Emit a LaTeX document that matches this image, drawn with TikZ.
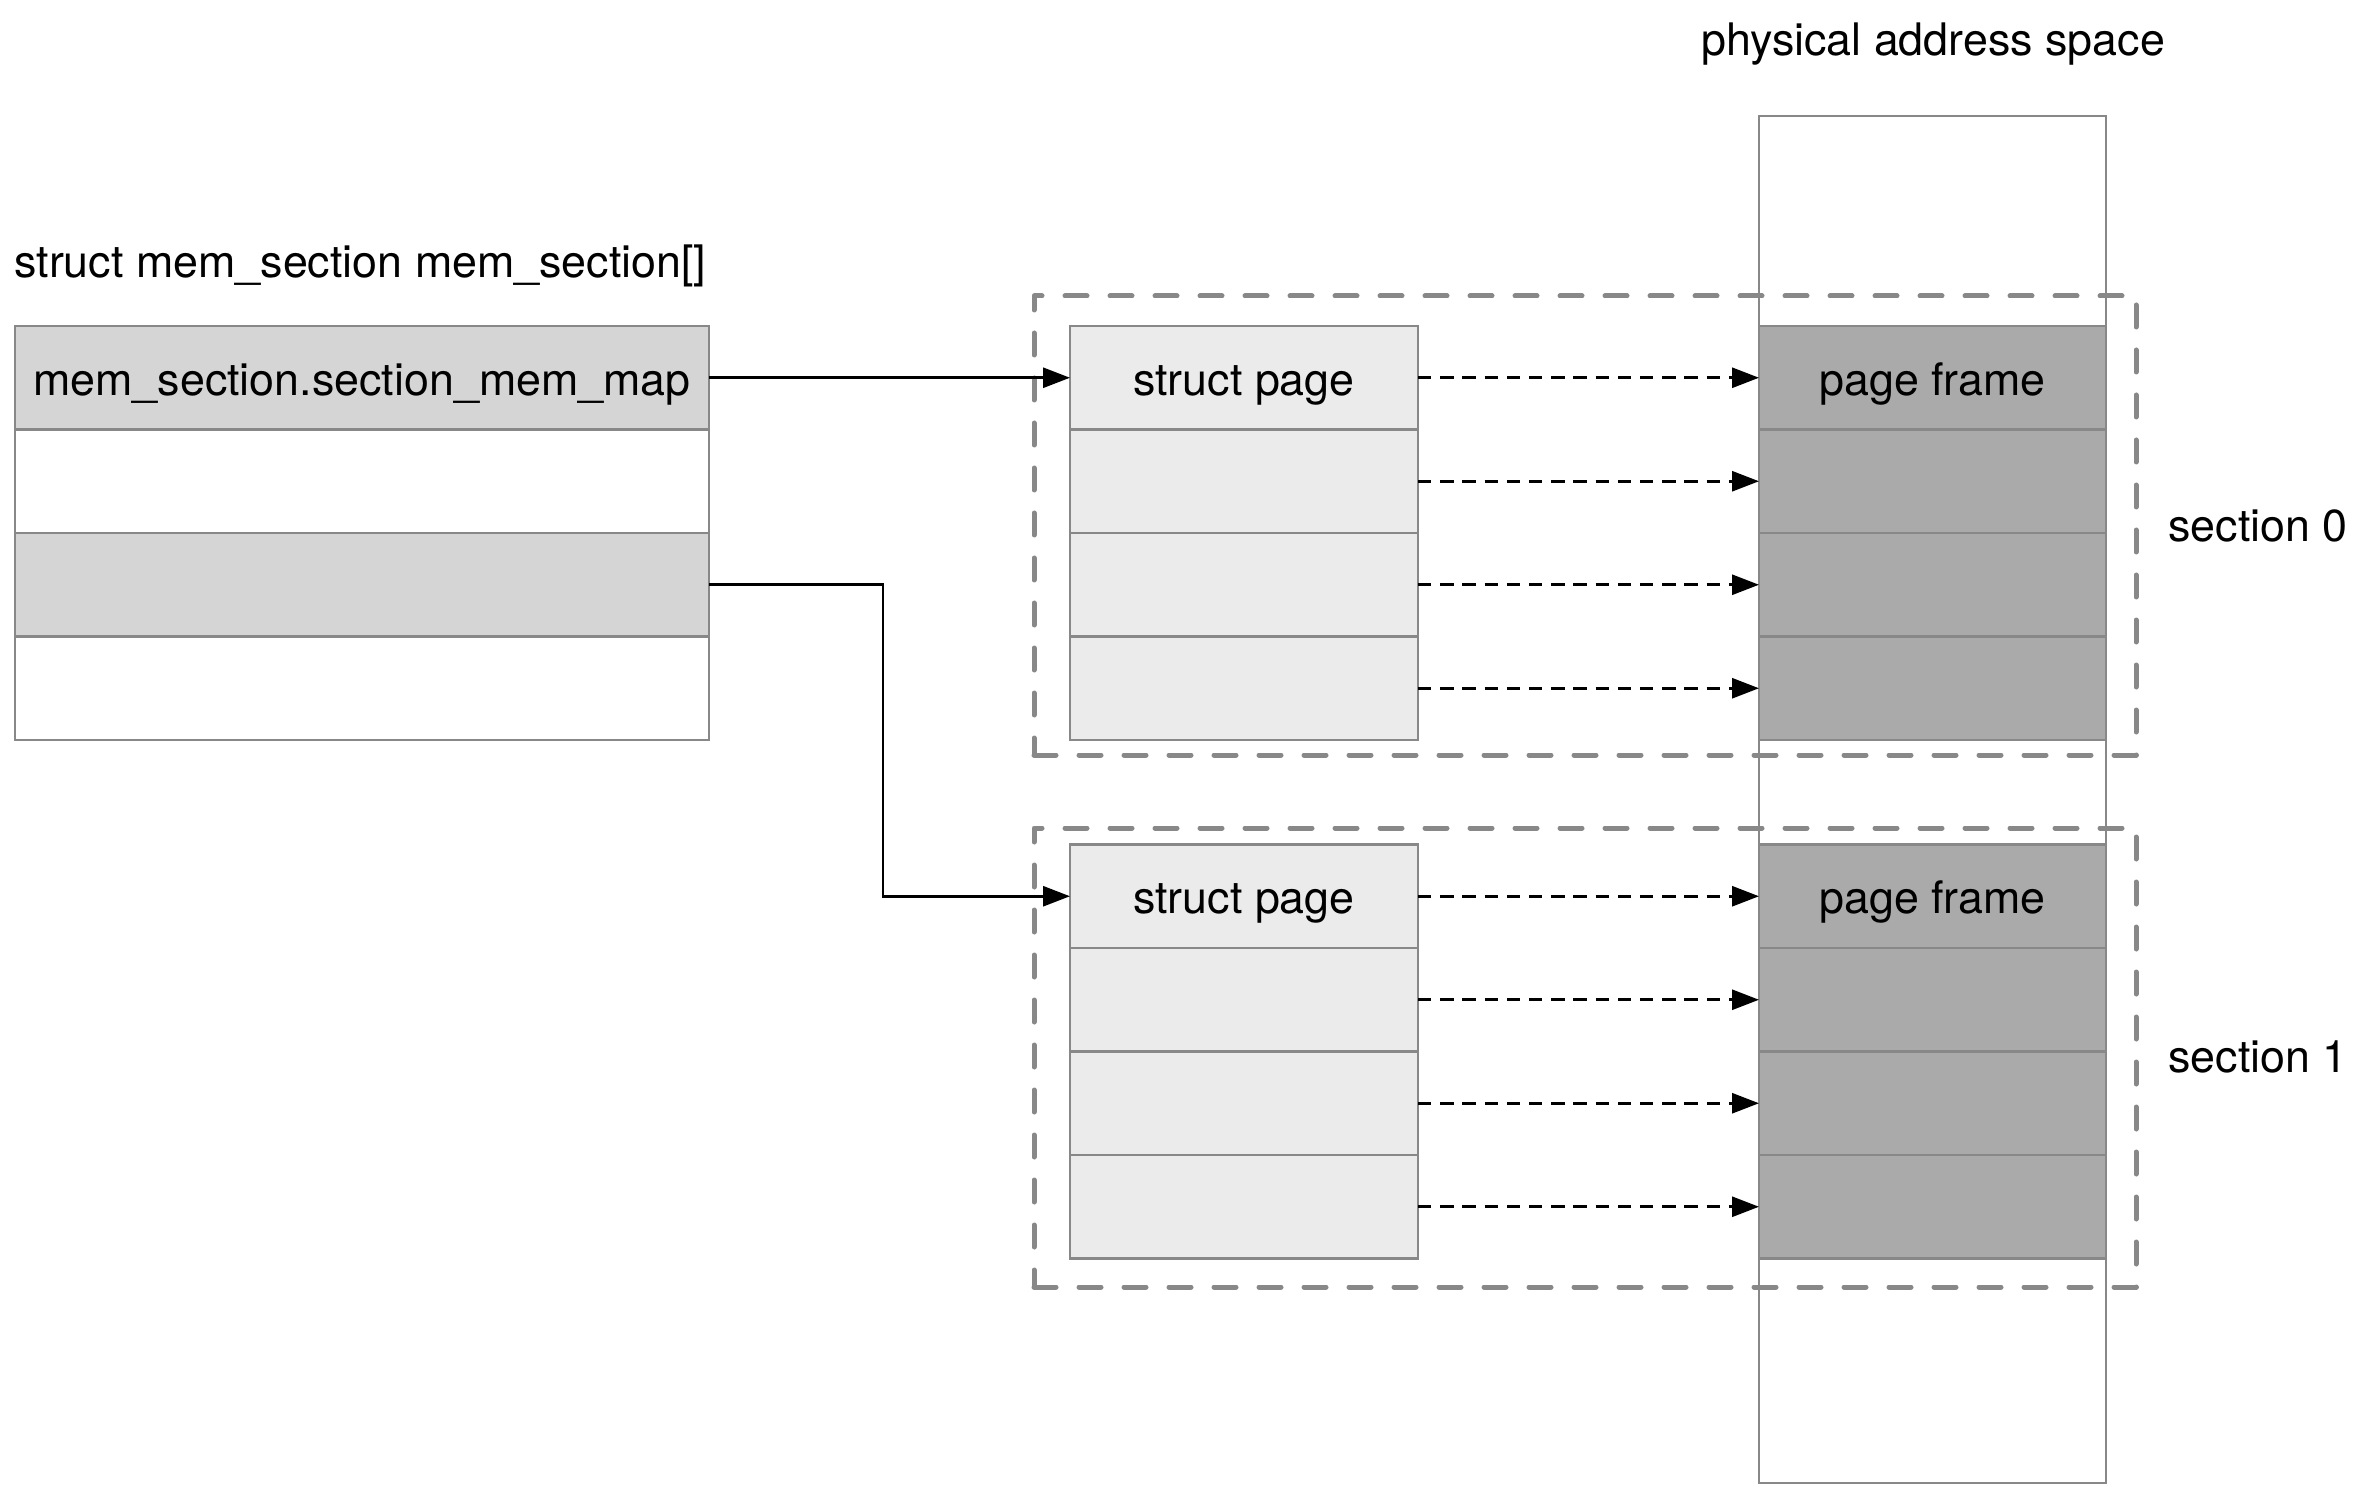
\documentclass[tikz,border=0pt]{standalone}
\usepackage{fontspec}
\setmainfont{TeX Gyre Heros}
\usetikzlibrary{arrows.meta}
\definecolor{boxgray}{HTML}{888888}
\definecolor{rowgray}{HTML}{D5D5D5}
\definecolor{pagegray}{HTML}{EBEBEB}
\definecolor{framegray}{HTML}{AAAAAA}
\begin{document}
\begin{tikzpicture}[x=0.5pt,y=-0.5pt,
  txt/.style={font=\fontsize{22.4}{26}\selectfont},
  cellbox/.style={draw=boxgray, line width=1.35pt, inner sep=0pt, outer sep=0pt, minimum height=51.75pt, txt, text height=21pt, text depth=3.6pt},
  memcell/.style={cellbox, minimum width=347pt},
  pagecell/.style={cellbox, minimum width=174pt, fill=pagegray},
  framecell/.style={cellbox, minimum width=173.5pt, fill=framegray},
  sectbox/.style={draw=boxgray, line width=2.5pt, dash pattern=on 11pt off 11.5pt, line cap=round, line join=round, inner sep=0pt, outer sep=0pt, minimum width=551pt, minimum height=229.5pt},
  arr/.style={draw=black, line width=1.4pt, -{Triangle[length=13.5pt,width=10pt]}},
  darr/.style={arr, dash pattern=on 6.65pt off 4.45pt},
  lbl/.style={txt, inner sep=0pt}
]
\useasboundingbox (0,0) rectangle (2366,1486);

% physical address space column
\node[draw=boxgray, line width=1.35pt, fill=white, minimum width=173.5pt, minimum height=683.5pt, inner sep=0pt, outer sep=0pt] (phys) at (1932.5,799.5) {};

% section boxes
\node[sectbox] (sec0) at (1585,525.5) {};
\node[sectbox] (sec1) at (1585,1057.5) {};

% mem_section table
\node[memcell, fill=rowgray] (m1) at (362,377.75) {mem\_section.section\_mem\_map};
\node[memcell, fill=white] (m2) at (362,481.25) {};
\node[memcell, fill=rowgray] (m3) at (362,584.75) {};
\node[memcell, fill=white] (m4) at (362,688.25) {};

% section 0
\node[pagecell] (pa1) at (1244,377.75) {struct page};
\node[framecell] (fa1) at (1932.5,377.75) {page frame};
\foreach \i/\y in {2/481.25,3/584.75,4/688.25} {
  \node[pagecell] (pa\i) at (1244,\y) {};
  \node[framecell] (fa\i) at (1932.5,\y) {};
}

% section 1
\node[pagecell] (pb1) at (1244,896.25) {struct page};
\node[framecell] (fb1) at (1932.5,896.25) {page frame};
\foreach \i/\y in {2/999.75,3/1103.25,4/1206.75} {
  \node[pagecell] (pb\i) at (1244,\y) {};
  \node[framecell] (fb\i) at (1932.5,\y) {};
}

% connectors
\draw[arr] (m1.east) -- (pa1.west);
\draw[arr] (m3.east) -- ++(174,0) |- (pb1.west);
\foreach \i in {1,...,4} {
  \draw[darr] (pa\i.east) -- (fa\i.west);
  \draw[darr] (pb\i.east) -- (fb\i.west);
}

% labels
\node[lbl, anchor=center] (phystitle) at (1933,44) {physical address space};
\node[lbl, anchor=west] (memtitle) at (14,266) {struct mem\_section mem\_section[]};
\node[lbl, anchor=west] (s0) at (2168,526) {section 0};
\node[lbl, anchor=west] (s1) at (2168,1057) {section 1};
\end{tikzpicture}
\end{document}
